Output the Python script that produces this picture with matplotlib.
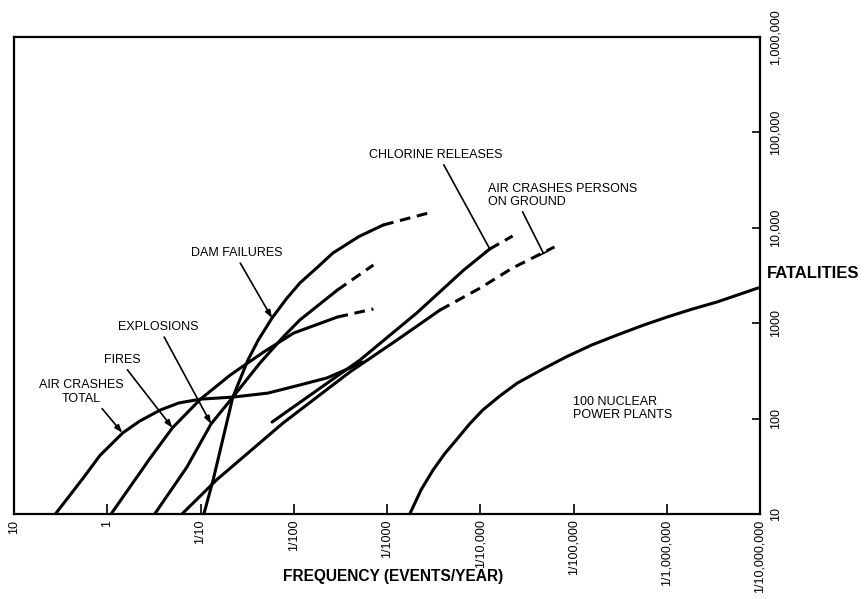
import numpy as np
import matplotlib.pyplot as plt

plt.rcParams['font.family'] = ['Liberation Sans', 'DejaVu Sans']

# axis ticks
x_ticks = [10, 1, 1e-1, 1e-2, 1e-3, 1e-4, 1e-5, 1e-6, 1e-7]
x_tick_labels = ['10', '1', '1/10', '1/100', '1/1000', '1/10,000',
                 '1/100,000', '1/1,000,000', '1/10,000,000']
y_ticks = [10, 100, 1000, 1e4, 1e5, 1e6]
y_tick_labels = ['10', '100', '1000', '10,000', '100,000', '1,000,000']

# curves: frequency (events/year) vs fatalities
air_total_freq = [3.6, 1.8, 1.2, 0.68, 0.45, 0.27, 0.17, 0.10, 0.045, 0.019, 0.0086,
                  0.0044, 0.0025, 0.00185]
air_total_fat = [10, 24, 41, 71, 94, 123, 146, 160, 168, 185, 225, 267, 339, 392]

fires_freq = [0.91, 0.35, 0.20, 0.10, 0.048, 0.021, 0.010, 0.0034]
fires_fat = [10, 38, 80, 160, 286, 499, 789, 1161]
fires_dash_freq = [0.0034, 0.0014]
fires_dash_fat = [1161, 1409]

expl_freq = [0.31, 0.14, 0.077, 0.045, 0.023, 0.013, 0.0086, 0.0034]
expl_fat = [10, 31, 88, 168, 383, 716, 1081, 2228]
expl_dash_freq = [0.0034, 0.0014]
expl_dash_fat = [2228, 4074]

dam_freq = [0.092, 0.073, 0.045, 0.031, 0.024, 0.0171, 0.012, 0.0086, 0.0055, 0.0038,
             0.0020, 0.0011]
dam_fat = [10, 23, 168, 411, 667, 1132, 1800, 2637, 3900, 5445, 8100, 10690]
dam_dash_freq = [0.0011, 3.6e-4]
dam_dash_fat = [10690, 14290]

chlor_freq = [0.0171, 0.00195, 4.8e-4, 1.5e-4, 7.9e-5]
chlor_fat = [92, 411, 1279, 3614, 5998]
chlor_dash_freq = [7.9e-5, 4.5e-5]
chlor_dash_fat = [5998, 8204]

ground_freq = [0.158, 0.0665, 0.013, 0.0025, 7.8e-4, 2.7e-4]
ground_fat = [10, 23, 90, 308, 667, 1374]
ground_dash_freq = [2.7e-4, 1.0e-4, 4.5e-5, 1.6e-5]
ground_dash_fat = [1374, 2339, 3793, 6295]

nuke_freq = [5.7e-4, 4.3e-4, 3.2e-4, 2.4e-4, 1.8e-4, 1.3e-4, 9.4e-5, 6.2e-5, 4.0e-5,
             2.2e-5, 1.2e-5, 6.4e-6, 3.4e-6, 1.8e-6, 9.9e-7, 5.4e-7, 2.9e-7, 1.05e-7]
nuke_fat = [10, 18, 29, 43, 60, 88, 123, 172, 236, 325, 443, 590, 752, 950, 1161, 1400,
            1667, 2339]

fig = plt.figure(figsize=(8.64, 5.99), dpi=100)
ax = fig.add_axes([14/864, 1 - 514/599, 746/864, 477/599])
ax.set_xscale('log')
ax.set_yscale('log')
ax.set_xlim(10, 1e-7)
ax.set_ylim(10, 1e6)

lw = 2.2
dash = (0, (3.5, 2.2))
solid = [(air_total_freq, air_total_fat), (fires_freq, fires_fat), (expl_freq, expl_fat),
         (dam_freq, dam_fat), (chlor_freq, chlor_fat), (ground_freq, ground_fat),
         (nuke_freq, nuke_fat)]
dashed = [(fires_dash_freq, fires_dash_fat), (expl_dash_freq, expl_dash_fat),
          (dam_dash_freq, dam_dash_fat), (chlor_dash_freq, chlor_dash_fat),
          (ground_dash_freq, ground_dash_fat)]
for f, n in solid:
    ax.plot(f, n, color='black', lw=lw, solid_capstyle='round', solid_joinstyle='round')
for f, n in dashed:
    ax.plot(f, n, color='black', lw=lw, ls=dash, dash_capstyle='butt')

ax.minorticks_off()
ax.set_xticks(x_ticks)
ax.set_xticklabels(x_tick_labels, rotation=90)
ax.yaxis.tick_right()
ax.set_yticks(y_ticks)
ax.set_yticklabels(y_tick_labels, rotation=90, va='center')
ax.tick_params(axis='x', direction='in', length=7, width=1.2, pad=4, labelsize=9)
ax.tick_params(axis='y', direction='in', length=6, width=1.2, pad=7, labelsize=9)
for s in ax.spines.values():
    s.set_linewidth(1.6)

fs = 9
arrow = dict(arrowstyle='-|>,head_length=0.5,head_width=0.18', color='black', lw=1.2,
             shrinkA=1, shrinkB=0)
ann = [
    ('DAM FAILURES', (0.0171, 1132), (0.299, 0.547), (0.51, 0.0), 'center'),
    ('EXPLOSIONS', (0.077, 88), (0.193, 0.392), (0.55, 0.0), 'center'),
    ('FIRES', (0.20, 80), (0.145, 0.323), (0.56, 0.0), 'center'),
    ('AIR CRASHES\nTOTAL', (0.69, 71), (0.090, 0.256), (0.71, 0.0), 'center'),
]
for txt, tip, pos, rel, ha in ann:
    ax.annotate(txt, xy=tip, xytext=pos, textcoords='axes fraction', ha=ha, va='center',
                fontsize=fs, multialignment='center',
                arrowprops=dict(arrow, relpos=rel))

bar = dict(arrowstyle='-[,widthB=0.4,lengthB=0', color='black', lw=1.2, shrinkA=1, shrinkB=0)
ax.annotate('CHLORINE RELEASES', xy=(7.9e-5, 5998), xytext=(0.566, 0.753),
            textcoords='axes fraction', ha='center', va='center', fontsize=fs,
            arrowprops=dict(bar, relpos=(0.54, 0.0)))
ax.annotate('AIR CRASHES PERSONS\nON GROUND', xy=(2.1e-5, 5400), xytext=(0.635, 0.668),
            textcoords='axes fraction', ha='left', va='center', fontsize=fs,
            multialignment='left', linespacing=1.1,
            arrowprops=dict(bar, relpos=(0.22, 0.0)))
ax.text(0.749, 0.221, '100 NUCLEAR\nPOWER PLANTS', transform=ax.transAxes, ha='left',
        va='center', fontsize=fs, linespacing=1.1)

fig.text(767/864, 1 - 273/599, 'FATALITIES', ha='left', va='center', fontsize=12,
         fontweight='bold')
fig.text(393/864, 1 - 577/599, 'FREQUENCY (EVENTS/YEAR)', ha='center', va='center',
         fontsize=11.2, fontweight='bold')

fig.savefig('out.png', dpi=100)
